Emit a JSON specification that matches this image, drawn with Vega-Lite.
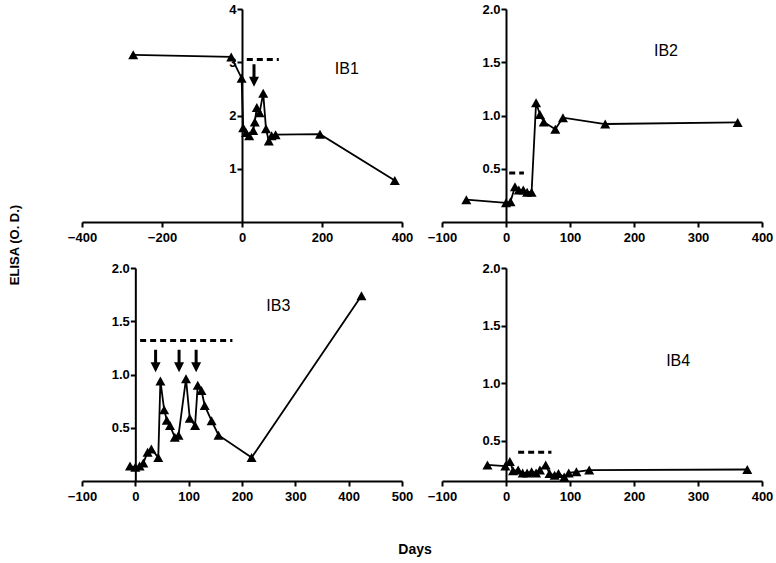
{
  "$schema": "https://vega.github.io/schema/vega-lite/v6.json",
  "padding": {"left": 9, "top": 3, "right": 0, "bottom": 0},
  "config": {
    "font": "Liberation Sans",
    "view": {"stroke": null},
    "axis": {
      "grid": false,
      "title": null,
      "domainColor": "black",
      "domainWidth": 2,
      "tickColor": "black",
      "tickWidth": 2,
      "tickSize": 5,
      "labelColor": "black",
      "labelFont": "Liberation Sans",
      "labelFontSize": 13,
      "labelFontWeight": "bold",
      "labelFlush": false
    },
    "axisX": {"labelPadding": 4},
    "axisY": {"labelPadding": 1}
  },
  "datasets": {
    "ib1": [
      {"day": -272, "od": 3.14}, {"day": -27, "od": 3.10}, {"day": -1, "od": 2.70},
      {"day": 3, "od": 1.77}, {"day": 10, "od": 1.68}, {"day": 18, "od": 1.62},
      {"day": 28, "od": 1.72}, {"day": 32, "od": 1.88}, {"day": 37, "od": 2.15},
      {"day": 44, "od": 2.05}, {"day": 53, "od": 2.42}, {"day": 60, "od": 1.75},
      {"day": 67, "od": 1.52}, {"day": 74, "od": 1.62}, {"day": 84, "od": 1.64},
      {"day": 195, "od": 1.65}, {"day": 382, "od": 0.78}
    ],
    "ib2": [
      {"day": -62, "od": 0.21}, {"day": 0, "od": 0.18}, {"day": 7, "od": 0.19},
      {"day": 14, "od": 0.33}, {"day": 20, "od": 0.30}, {"day": 27, "od": 0.30},
      {"day": 33, "od": 0.28}, {"day": 40, "od": 0.28}, {"day": 47, "od": 1.12},
      {"day": 53, "od": 1.01}, {"day": 59, "od": 0.94}, {"day": 77, "od": 0.87},
      {"day": 89, "od": 0.98}, {"day": 155, "od": 0.92}, {"day": 362, "od": 0.935}
    ],
    "ib3": [
      {"day": -10, "od": 0.14}, {"day": 0, "od": 0.13}, {"day": 8, "od": 0.14},
      {"day": 15, "od": 0.17}, {"day": 23, "od": 0.27}, {"day": 30, "od": 0.30},
      {"day": 43, "od": 0.22}, {"day": 47, "od": 0.94}, {"day": 54, "od": 0.67},
      {"day": 59, "od": 0.57}, {"day": 65, "od": 0.52}, {"day": 74, "od": 0.41},
      {"day": 81, "od": 0.43}, {"day": 95, "od": 0.96}, {"day": 102, "od": 0.59},
      {"day": 112, "od": 0.52}, {"day": 117, "od": 0.90}, {"day": 124, "od": 0.85},
      {"day": 130, "od": 0.71}, {"day": 143, "od": 0.565}, {"day": 156, "od": 0.43},
      {"day": 218, "od": 0.22}, {"day": 424, "od": 1.74}
    ],
    "ib4": [
      {"day": -29, "od": 0.29}, {"day": -1, "od": 0.28}, {"day": 6, "od": 0.32},
      {"day": 11, "od": 0.24}, {"day": 19, "od": 0.245}, {"day": 26, "od": 0.22},
      {"day": 33, "od": 0.22}, {"day": 40, "od": 0.23}, {"day": 47, "od": 0.22},
      {"day": 53, "od": 0.245}, {"day": 62, "od": 0.29}, {"day": 68, "od": 0.215},
      {"day": 76, "od": 0.20}, {"day": 82, "od": 0.215}, {"day": 91, "od": 0.185},
      {"day": 98, "od": 0.22}, {"day": 110, "od": 0.23}, {"day": 130, "od": 0.245},
      {"day": 377, "od": 0.25}
    ],
    "dashes": [
      {"panel": "IB1", "day": 12, "day_end": 92, "od": 3.05},
      {"panel": "IB2", "day": 5, "day_end": 28, "od": 0.46},
      {"panel": "IB3", "day": 9, "day_end": 182, "od": 1.32},
      {"panel": "IB4", "day": 19, "day_end": 71, "od": 0.40}
    ],
    "arrows": [
      {"panel": "IB1", "day": 30, "od": 2.54},
      {"panel": "IB3", "day": 38, "od": 1.02},
      {"panel": "IB3", "day": 82, "od": 1.02},
      {"panel": "IB3", "day": 114, "od": 1.02}
    ],
    "labels": [
      {"panel": "IB1", "day": 262, "od": 2.87},
      {"panel": "IB2", "day": 250, "od": 1.61},
      {"panel": "IB3", "day": 268, "od": 1.64},
      {"panel": "IB4", "day": 269, "od": 1.19}
    ]
  },
  "title": {
    "text": "ELISA (O. D.)",
    "orient": "left",
    "anchor": "middle",
    "frame": "bounds",
    "font": "Liberation Sans",
    "fontSize": 13,
    "fontWeight": "bold",
    "color": "black",
    "offset": 45,
    "dx": 35
  },
  "vconcat": [
    {
      "title": {
        "text": "Days",
        "orient": "bottom",
        "anchor": "middle",
        "frame": "bounds",
        "font": "Liberation Sans",
        "fontSize": 14,
        "fontWeight": "bold",
        "color": "black",
        "offset": 40,
        "dx": -5
      },
      "columns": 2,
      "spacing": {"row": 46, "column": 40},
      "bounds": "flush",
      "concat": [
        {
          "width": 320,
          "height": 213,
          "encoding": {
            "x": {"field": "day", "type": "quantitative", "scale": {"domain": [-400, 400], "nice": false},
                  "axis": {"values": [-400, -200, 0, 200, 400], "format": "d"}},
            "y": {"field": "od", "type": "quantitative", "scale": {"domain": [0, 4], "nice": false},
                  "axis": {"values": [1, 2, 3, 4], "format": "d", "offset": -160}}
          },
          "layer": [
            {"data": {"name": "ib1"}, "mark": {"type": "line", "color": "black", "strokeWidth": 1.8}},
            {"data": {"name": "ib1"}, "mark": {"type": "point", "shape": "M0,-0.9L1,0.9L-1,0.9Z", "filled": true, "size": 100, "color": "black", "opacity": 1}},
            {"data": {"name": "dashes"}, "transform": [{"filter": "datum.panel === 'IB1'"}],
             "mark": {"type": "rule", "color": "black", "strokeWidth": 3, "strokeDash": [6, 4]},
             "encoding": {"x2": {"field": "day_end"}}},
            {"data": {"name": "arrows"}, "transform": [{"filter": "datum.panel === 'IB1'"}],
             "mark": {"type": "point", "shape": "M-0.3,-4.5L0.3,-4.5L0.3,-2L1,-2L0,0L-1,-2L-0.3,-2Z", "filled": true, "size": 100, "color": "black", "opacity": 1}},
            {"data": {"name": "labels"}, "transform": [{"filter": "datum.panel === 'IB1'"}],
             "mark": {"type": "text", "fontSize": 16, "color": "black", "align": "center", "baseline": "middle"},
             "encoding": {"text": {"field": "panel"}}}
          ]
        },
        {
          "width": 320,
          "height": 213,
          "encoding": {
            "x": {"field": "day", "type": "quantitative", "scale": {"domain": [-100, 400], "nice": false},
                  "axis": {"values": [-100, 0, 100, 200, 300, 400], "format": "d"}},
            "y": {"field": "od", "type": "quantitative", "scale": {"domain": [0, 2], "nice": false},
                  "axis": {"values": [0.5, 1, 1.5, 2], "format": ".1f", "offset": -64}}
          },
          "layer": [
            {"data": {"name": "ib2"}, "mark": {"type": "line", "color": "black", "strokeWidth": 1.8}},
            {"data": {"name": "ib2"}, "mark": {"type": "point", "shape": "M0,-0.9L1,0.9L-1,0.9Z", "filled": true, "size": 100, "color": "black", "opacity": 1}},
            {"data": {"name": "dashes"}, "transform": [{"filter": "datum.panel === 'IB2'"}],
             "mark": {"type": "rule", "color": "black", "strokeWidth": 3, "strokeDash": [6, 4]},
             "encoding": {"x2": {"field": "day_end"}}},
            {"data": {"name": "labels"}, "transform": [{"filter": "datum.panel === 'IB2'"}],
             "mark": {"type": "text", "fontSize": 16, "color": "black", "align": "center", "baseline": "middle"},
             "encoding": {"text": {"field": "panel"}}}
          ]
        },
        {
          "width": 320,
          "height": 213,
          "encoding": {
            "x": {"field": "day", "type": "quantitative", "scale": {"domain": [-100, 500], "nice": false},
                  "axis": {"values": [-100, 0, 100, 200, 300, 400, 500], "format": "d"}},
            "y": {"field": "od", "type": "quantitative", "scale": {"domain": [0, 2], "nice": false},
                  "axis": {"values": [0.5, 1, 1.5, 2], "format": ".1f", "offset": -53.33}}
          },
          "layer": [
            {"data": {"name": "ib3"}, "mark": {"type": "line", "color": "black", "strokeWidth": 1.8}},
            {"data": {"name": "ib3"}, "mark": {"type": "point", "shape": "M0,-0.9L1,0.9L-1,0.9Z", "filled": true, "size": 100, "color": "black", "opacity": 1}},
            {"data": {"name": "dashes"}, "transform": [{"filter": "datum.panel === 'IB3'"}],
             "mark": {"type": "rule", "color": "black", "strokeWidth": 3, "strokeDash": [6, 4]},
             "encoding": {"x2": {"field": "day_end"}}},
            {"data": {"name": "arrows"}, "transform": [{"filter": "datum.panel === 'IB3'"}],
             "mark": {"type": "point", "shape": "M-0.3,-4.5L0.3,-4.5L0.3,-2L1,-2L0,0L-1,-2L-0.3,-2Z", "filled": true, "size": 100, "color": "black", "opacity": 1}},
            {"data": {"name": "labels"}, "transform": [{"filter": "datum.panel === 'IB3'"}],
             "mark": {"type": "text", "fontSize": 16, "color": "black", "align": "center", "baseline": "middle"},
             "encoding": {"text": {"field": "panel"}}}
          ]
        },
        {
          "width": 320,
          "height": 213,
          "encoding": {
            "x": {"field": "day", "type": "quantitative", "scale": {"domain": [-100, 400], "nice": false},
                  "axis": {"values": [-100, 0, 100, 200, 300, 400], "format": "d"}},
            "y": {"field": "od", "type": "quantitative", "scale": {"domain": [0.15, 2], "nice": false},
                  "axis": {"values": [0.5, 1, 1.5, 2], "format": ".1f", "offset": -64}}
          },
          "layer": [
            {"data": {"name": "ib4"}, "mark": {"type": "line", "color": "black", "strokeWidth": 1.8}},
            {"data": {"name": "ib4"}, "mark": {"type": "point", "shape": "M0,-0.9L1,0.9L-1,0.9Z", "filled": true, "size": 100, "color": "black", "opacity": 1}},
            {"data": {"name": "dashes"}, "transform": [{"filter": "datum.panel === 'IB4'"}],
             "mark": {"type": "rule", "color": "black", "strokeWidth": 3, "strokeDash": [6, 4]},
             "encoding": {"x2": {"field": "day_end"}}},
            {"data": {"name": "labels"}, "transform": [{"filter": "datum.panel === 'IB4'"}],
             "mark": {"type": "text", "fontSize": 16, "color": "black", "align": "center", "baseline": "middle"},
             "encoding": {"text": {"field": "panel"}}}
          ]
        }
      ]
    }
  ]
}
